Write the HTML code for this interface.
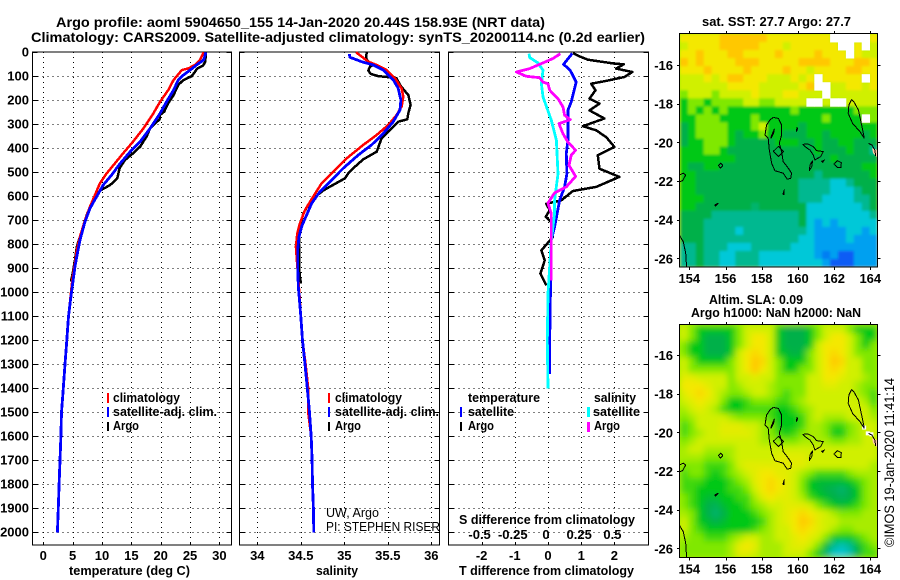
<!DOCTYPE html>
<html lang="en">
<head>
<meta charset="utf-8">
<title>Argo profile 5904650_155</title>
<style>
html,body{margin:0;padding:0;background:#fff;width:900px;height:580px;overflow:hidden}
svg{display:block}
text{font-family:"Liberation Sans",sans-serif;font-size:13px;font-weight:bold;fill:#000}
.reg{font-weight:normal}
</style>
</head>
<body>
<svg id="chart" xmlns="http://www.w3.org/2000/svg" width="900" height="580" viewBox="0 0 900 580">
<defs>
<clipPath id="clip-sst"><rect x="680" y="34" width="197.5" height="233"/></clipPath>
<clipPath id="clip-sla"><rect x="680" y="325" width="197.5" height="232.5"/></clipPath>
<filter id="smooth" x="-5%" y="-5%" width="110%" height="110%"><feGaussianBlur stdDeviation="3.2"/></filter>
<filter id="soften" x="-5%" y="-5%" width="110%" height="110%"><feGaussianBlur stdDeviation="1.4"/></filter>
</defs>
<text x="56" y="27" font-size="14" style="font-size:14px" textLength="489" lengthAdjust="spacingAndGlyphs">Argo profile: aoml 5904650_155 14-Jan-2020 20.44S 158.93E (NRT data)</text>
<text x="31" y="42" style="font-size:14px" textLength="614" lengthAdjust="spacingAndGlyphs">Climatology: CARS2009. Satellite-adjusted climatology: synTS_20200114.nc (0.2d earlier)</text>
<g id="layer-maps"></g>
<g id="layer-plots"></g>
<g id="layer-text">
<text x="69" y="575" textLength="121" lengthAdjust="spacingAndGlyphs">temperature (deg C)</text>
<text x="316" y="575" textLength="42" lengthAdjust="spacingAndGlyphs">salinity</text>
<text x="459" y="575" textLength="175" lengthAdjust="spacingAndGlyphs">T difference from climatology</text>
<text x="459" y="524" textLength="176" lengthAdjust="spacingAndGlyphs">S difference from climatology</text>

<rect x="107" y="393" width="2" height="10" fill="#f00"/>
<rect x="107" y="407" width="2" height="10" fill="#00f"/>
<rect x="107" y="422" width="2" height="9" fill="#000"/>
<text x="113" y="402" textLength="67" lengthAdjust="spacingAndGlyphs">climatology</text>
<text x="113" y="416" textLength="104" lengthAdjust="spacingAndGlyphs">satellite-adj. clim.</text>
<text x="113" y="430" textLength="26" lengthAdjust="spacingAndGlyphs">Argo</text>

<rect x="328" y="393" width="2" height="10" fill="#f00"/>
<rect x="328" y="407" width="2" height="10" fill="#00f"/>
<rect x="328" y="422" width="2" height="9" fill="#000"/>
<text x="335" y="402" textLength="67" lengthAdjust="spacingAndGlyphs">climatology</text>
<text x="335" y="416" textLength="104" lengthAdjust="spacingAndGlyphs">satellite-adj. clim.</text>
<text x="335" y="430" textLength="26" lengthAdjust="spacingAndGlyphs">Argo</text>
<text class="reg" x="326" y="517" textLength="53" lengthAdjust="spacingAndGlyphs">UW, Argo</text>
<text class="reg" x="326" y="531" textLength="114" lengthAdjust="spacingAndGlyphs">PI: STEPHEN RISER</text>

<text x="468" y="402" textLength="72" lengthAdjust="spacingAndGlyphs">temperature</text>
<text x="468" y="416" textLength="46" lengthAdjust="spacingAndGlyphs">satellite</text>
<text x="468" y="430" textLength="26" lengthAdjust="spacingAndGlyphs">Argo</text>
<rect x="460" y="407" width="2" height="10" fill="#00f"/>
<rect x="460" y="422" width="2" height="9" fill="#000"/>
<text x="594" y="402" textLength="42" lengthAdjust="spacingAndGlyphs">salinity</text>
<text x="593" y="416" textLength="47" lengthAdjust="spacingAndGlyphs">satellite</text>
<text x="594" y="430" textLength="26" lengthAdjust="spacingAndGlyphs">Argo</text>
<rect x="587" y="407" width="3" height="10" fill="#0ff"/>
<rect x="587" y="422" width="3" height="10" fill="#f0f"/>

<text x="702" y="26" textLength="149" lengthAdjust="spacingAndGlyphs">sat. SST: 27.7 Argo: 27.7</text>
<text x="709" y="304" textLength="94" lengthAdjust="spacingAndGlyphs">Altim. SLA: 0.09</text>
<text x="691" y="317" textLength="170" lengthAdjust="spacingAndGlyphs">Argo h1000: NaN h2000: NaN</text>
<text class="reg" transform="translate(894,547) rotate(-90)" style="font-size:14px" textLength="169" lengthAdjust="spacingAndGlyphs">©IMOS 19-Jan-2020 11:41:14</text>
</g>
</svg>
<script>
// ---- tick labels ----
const depthTicks = [0,100,200,300,400,500,600,700,800,900,1000,1100,1200,1300,1400,1500,1600,1700,1800,1900,2000];
const tempTicks = [0,5,10,15,20,25,30];
const salTicks = [34,34.5,35,35.5,36];
const salTickLabels = ['34','34.5','35','35.5','36'];
const tDiffTicks = [-2,-1,0,1,2];
const sDiffTicks = [-0.5,-0.25,0,0.25,0.5];
const sDiffTickLabels = ['-0.5','-0.25','0','0.25','0.5'];
const lonTicks = [154,156,158,160,162,164];
const latTicks = [-16,-18,-20,-22,-24,-26];

// ---- temperature panel ----
const tempArgoDepth = [0,39,56,67,99,118,136,178,212,247,261,279,317,351,393,421,449,483,525,553,576,615,671,726,768,810,865,921,955];
const tempArgo = [27.7,27.6,27.2,26.25,25.3,23.75,23,22.2,21.3,20.6,19.9,19.8,18.2,17.6,16.5,15.3,13.9,13,12.6,11.4,9.7,8.5,7.5,6.8,6.25,5.7,5.4,5,4.7];
const tempClimDepth = [0,32,53,67,74,115,157,206,254,317,372,421,463,504,546,594,643,699,768,824,879,935,1004,1100,1200,1300,1400,1500,1600,1700,1800,1900,2000];
const tempClim = [27.3,26.7,25.85,24.7,23.6,22.2,21.3,19.9,18.75,17.05,15.3,13.6,12.2,10.8,9.65,8.8,7.95,7.1,6.25,5.7,5.4,5,4.7,4.3,4,3.7,3.4,3.1,3,2.85,2.7,2.55,2.4];
const tempSatDepth = [0,32,53,74,94,115,157,206,254,317,372,414,463,511,553,601,650,706,782,851,893,963,1025,1100,1200,1300,1400,1500,1600,1700,1800,1900,2000];
const tempSat = [27.7,27.3,26.1,25,23.9,23,22.2,21,19.9,18.2,16.5,14.8,13.1,11.65,10.2,9.1,7.95,7.1,6.25,5.7,5.4,5,4.66,4.3,4,3.7,3.4,3.1,3,2.85,2.7,2.55,2.4];

// ---- salinity panel ----
const salArgoDepth = [0,25,46,53,60,76,90,99,104,108,136,157,178,219,254,279,289,310,331,358,414,446,483,504,525,560,576,608,636,671,699,740,796,893,935,963];
const salArgo = [35.257,35.249,35.287,35.333,35.295,35.276,35.303,35.39,35.525,35.6,35.64,35.686,35.736,35.762,35.736,35.724,35.62,35.563,35.506,35.429,35.372,35.218,35.103,35.046,35.008,34.835,34.759,34.644,34.586,34.529,34.51,34.49,34.479,34.479,34.49,34.502];
const salClimDepth = [0,18,39,53,74,108,150,185,226,261,303,344,386,442,497,546,601,657,713,754,810,851,1000,1100,1200,1300,1400,1500,1600,1700,1800,1900,2000];
const salClim = [35.134,35.2,35.276,35.372,35.487,35.582,35.659,35.678,35.659,35.602,35.506,35.372,35.218,35.027,34.874,34.739,34.644,34.548,34.49,34.46,34.444,34.452,34.483,34.5,34.52,34.555,34.585,34.585,34.62,34.63,34.635,34.645,34.65];
const salSatDepth = [7,21,39,53,74,115,150,199,240,289,338,386,428,483,539,581,629,685,726,768,824,893,976,1025,1100,1200,1300,1400,1500,1600,1700,1800,1900,2000];
const salSat = [35.057,35.065,35.199,35.333,35.448,35.563,35.62,35.651,35.64,35.563,35.448,35.314,35.161,34.989,34.835,34.72,34.625,34.559,34.51,34.479,34.464,34.464,34.471,34.483,34.5,34.52,34.548,34.575,34.6,34.62,34.63,34.635,34.645,34.65];

// ---- difference panel ----
const dtArgoDepth = [3,17,31,40,47,50,68,82,103,119,131,158,193,214,242,276,308,325,353,394,429,485,519,561,578,617,631,658,686,707,769,825,867,922,971];
const dtArgo = [0.75,0.95,1.2,1.65,2,2.28,2.05,2.54,2.3,1.75,1.3,1.43,1.25,1.55,1.25,1.7,1.05,1.45,1.75,2,1.5,1.55,2.15,1.45,0.75,0.4,-0.05,0.05,-0.07,0.1,0.15,-0.2,-0.1,-0.23,-0.05];
const dtSatDepth = [5,50,75,124,207,242,367,422,506,561,617,728,783,1033,1200,1340];
const dtSat = [0.73,0.47,0.67,0.85,0.7,0.6,0.6,0.55,0.57,0.5,0.35,0.2,0.1,0.07,0.05,0.05];
const dsArgoDepth = [6,26,44,68,82,100,106,124,131,158,193,228,262,281,297,339,374,408,429,471,517,561,586,628,672,769,950];
const dsArgo = [0.093,0.038,-0.038,-0.138,-0.238,-0.163,-0.063,-0.038,0,0.013,0.075,0.113,0.125,0.168,0.083,0.113,0.15,0.208,0.175,0.158,0.208,0.138,0.05,0,0.025,0.025,0.025];
const dsSatDepth = [6,22,44,75,131,186,283,367,506,617,672,783,1005,1200,1400];
const dsSat = [-0.143,-0.138,-0.075,-0.038,-0.05,-0.038,0.025,0.063,0.075,0.05,0.05,0.025,0,-0.005,0];

// ---- map colour levels (-1 = no data) ----
const levelColors = ['#0a5cf5','#00a0f0','#00c8d8','#00b890','#00b048','#00c818','#80e800','#d0f000','#f4e800','#ffc800'];
const sstLevels = [
[8,8,8,8,8,9,9,9,9,9,9,8,8,8,8,8,8,8,8,-1,-1,-1,-1,-1,8],
[7,8,8,8,8,9,9,9,9,9,8,8,8,7,8,8,8,8,8,8,-1,-1,8,-1,7],
[8,8,9,8,8,8,9,9,8,8,8,8,9,8,8,8,8,9,8,8,8,-1,8,7,7],
[9,8,9,8,8,8,8,9,9,9,8,8,8,8,8,9,9,9,9,8,8,8,9,9,8],
[8,8,8,9,8,8,8,8,9,8,8,8,8,9,8,8,7,8,8,8,8,9,9,8,8],
[7,7,7,8,7,8,9,9,8,8,8,7,7,7,8,7,8,-1,8,8,8,8,8,-1,8],
[7,7,7,7,7,7,8,8,8,8,7,7,7,7,7,8,9,-1,-1,7,7,8,8,7,8],
[6,7,7,7,6,7,7,7,7,8,7,7,7,8,8,7,7,7,-1,7,7,7,7,7,7],
[5,6,6,5,6,6,6,6,7,7,6,6,7,7,7,7,-1,-1,7,-1,-1,7,7,7,7],
[5,6,5,6,5,6,5,5,5,5,5,5,5,5,6,5,5,5,5,5,5,5,6,6,6],
[5,5,6,6,6,5,5,5,5,6,5,5,5,5,5,5,5,5,6,5,5,5,5,-1,6],
[4,5,6,6,6,6,5,5,5,6,7,5,5,5,5,4,5,5,5,5,5,5,5,5,5],
[4,5,6,6,6,6,5,4,5,5,6,5,5,4,4,4,5,5,4,5,5,5,5,4,5],
[4,5,5,6,6,6,5,4,4,4,4,4,5,5,5,4,4,5,4,4,5,5,4,4,4],
[5,5,5,6,6,5,4,4,4,4,4,4,4,4,4,4,4,5,4,4,4,5,4,4,3],
[5,5,5,5,5,5,5,4,4,4,4,4,4,4,4,4,4,4,4,5,4,4,4,4,4],
[5,4,4,5,5,4,4,4,4,4,4,4,4,4,4,4,4,4,4,4,4,4,4,5,5],
[5,5,4,4,4,4,4,4,4,4,4,4,4,4,4,4,4,3,4,4,4,4,4,4,5],
[5,5,4,4,4,4,4,4,4,4,4,4,4,4,4,3,3,3,3,2,2,3,4,4,4],
[5,5,4,4,4,4,4,4,4,4,4,4,4,4,4,3,3,3,3,2,2,2,3,4,4],
[5,5,5,4,4,4,4,4,4,4,4,4,4,4,4,3,3,3,2,2,2,2,3,3,4],
[5,5,4,4,4,4,4,4,4,3.5,4,4,4,4,4,4,2,2,2,2,2,2,2,3,4],
[4,4,4,4,3,3,3,3,3,3,3,3,3,3,3,4,2,2,2,2,2,2,2,2,3],
[4,4,4,3,3,3,3,3,3,3,3,3,3,3,3,4,2,1,2,1,2,2,2,2,2],
[4,4,4,3,3,3,3,2,3,3,3,3,3,3,3,3,2,1,1,1,1,2,2,1,2],
[4,4,4,3,3,3,3,3,3,3,3,3,3,3,3,2,2,1,1,1,1,2,1,1,1],
[3,3,4,3,3,3,2,2,2,3,3,3,3,3,2,2,2,1,1,1,1,1,1,1,1],
[3,3,4,3,3,2,2,3,3,3,2,2,2,2,2,2,2,1,0.5,1,0,0,1,1,1],
[3,3,4,3,3,2,2,3,3,3,2,2,2,2,2,2,2,2,1,0,0,0,1,1,1]
];
const slaLevels = [
[7,6,5,5,5,5,5,6,7,7,7,7,5,4,4,4,5,6,7,7,7,6,5,5,5],
[7,6,5,4,4,4,5,6,7,8,8,7,5,4,4,4,5,6,7,8,8,7,6,5,5],
[6,5,5,4,4,4,5,6,7,8,8,7,5,4,4,4,5,7,8,8,8,7,6,5,6],
[6,5,5,4,4,4,5,7,8,8.5,8,7,5,4.5,4,4.5,6,7,8,8.5,8,7,6,6,6],
[7,6,5,5,5,5,6,7,8,9,8.5,7,6,5,5,5,6,7,8,9,8.5,7,7,6,6],
[7,6,6,6,6,6,6,7,8,9,8,7,6,5,5,6,6,7,8,8.5,8,7,7,6,6],
[7.5,7.5,7,7,7,7,6,7,7,7.5,7,7,6,6,6,6,7,7,8,8,7.5,7,7,6.5,6],
[8,8,8,7.5,7,7,6,6.5,7,7,7,6.5,6,6,6,6,7,7,7.5,7.5,7,7,6.5,6,6],
[7.5,8,8.5,8,7,6.5,6,6,6.5,7,7,6.5,6,5.5,6,6,7,7,7,7,7,7,6.5,6,5.5],
[7,7.5,8,7.5,7,6,5,5,5.5,6,6,6,5.5,5.5,6,6.5,7,7,7,7,7,7,7,6.5,5.5],
[6.5,7,7.5,7,6.5,5.5,5,5,5.5,5.5,5.5,5.5,5,5,5.5,6,6.5,7,7,7,7,7,7,7,6],
[6,6.5,7,7,7,7,6.5,6,6,6,6,5.5,5,5,5,5.5,6.5,7,6.5,6.5,6.5,7,7,7,6.5],
[5.5,6,7,7,7,7.5,7.5,7.5,7,7,6.5,6,5,5,5,5.5,6.5,6.5,6,5.5,5.5,6,6.5,7,7],
[5.5,6,6.5,7,7,7.5,7.5,7.5,7.5,7,6.5,6,5.5,5,5.5,6,6.5,6.5,6,5,5,6,6.5,7,7],
[6,6.5,7,7,7,7,7,7,7,7,6.5,6.5,6,6,6,6.5,6.5,6.5,6.5,6,6,6.5,6.5,7,7],
[6.5,7,7,6.5,6.5,6.5,6.5,7,7,7,7,7,7,7,7,7,7,7,7,7,7,7,7,7,7],
[6.5,6.5,6.5,6,6,6,6.5,7,7,7,7,7,7.5,7.5,7.5,7.5,7,7,7,7,7,7,7,7,7],
[6,6,6,5.5,5.5,5.5,6,7,7.5,7.5,7.5,7.5,7.5,7.5,7.5,7.5,7,7,7,7,7,7,7,7,6.5],
[5.5,6,6,5.5,5,5.5,6,6.5,7,7.5,8,8,7.5,7.5,7,6.5,6,5.5,5.5,5.5,5.5,6,6.5,6.5,6.5],
[5.5,5.5,5.5,5,5,5,5.5,6,6.5,7.5,8,8.5,8,7.5,7,6,5,4.5,4.5,4.5,4.5,5,5.5,6,6.5],
[5.5,5.5,5,5,5,5,5.5,5.5,6,7,8,8.5,8,7.5,7,6,5,4.5,4,3.8,3.5,4,5,6,6.5],
[6,5.5,5,4.5,4.5,5,5,5.5,5.5,6.5,7.5,8,7.5,7.5,7,6.5,5.5,5,4.5,4,3.8,4,5,6,6.5],
[6,5.5,5,4,3.8,4.5,5,5,5.5,6,6.5,7,7,7.5,7.5,7.5,7,6,5.5,5,4.5,5,5.5,6,6.5],
[6.5,6,5,4,3.5,4,5,5,5,5.5,6,6.5,7,7.5,8,8.5,8,7.5,7,6.5,6,6,6,6.5,6.5],
[7,6,5,4.5,4,4.5,5,5,5,5,5.5,6.5,7,7.5,8,9,8.5,7.5,7,7,6.5,6.5,6.5,6.5,6.5],
[7,6,5.5,5,5,5,5,5,5,5.5,6,6.5,7,7,8,8.5,8,7.5,7,6.5,6,6,6.5,6.5,6.5],
[6.5,6,6,5.5,5.5,5.5,6,6.5,7,7,6.5,6.5,7,7,7.5,8,7.5,7,6,5,5,5,5.5,6,6.5],
[6,6,6,6,6,6,6.5,7.5,8,7.5,6.5,6.5,6.5,7,7.5,7.5,7,6,4.5,3,2.5,3,4.5,5.5,6],
[6,6,6,6,6,6,6.5,7.5,7.5,7,6.5,6.5,6.5,7,7,7,6,5,3.5,2.2,2,2.5,4,5.5,5.5]
];

// ---- coastlines (lon, lat) ----
const coastLons = [
[158.64,158.92,159.1,159.1,158.97,159.1,159.19,159.47,159.65,159.6,159.41,159.19,158.73,158.55,158.42,158.36,158.18,158.27,158.46,158.64],
[158.5,158.7,158.65,158.5,158.5],
[158.64,158.92,159.2,158.92,158.64],
[159.95,159.98,159.92,159.95],
[160.26,160.57,160.85,161.03,161.4,161.26,160.94,160.85,160.67,160.39,160.26],
[160.81,160.67,160.63,160.76,160.81],
[161.3,161.45,161.37,161.3],
[161.98,162.18,162.4,162.38,162.18,161.98],
[155.6,155.73,155.85,155.73,155.6],
[159.25,159.17,159.22,159.25],
[155.4,155.6,155.45,155.4],
[153.45,153.67,153.8,153.63,153.45],
[153.45,153.67,153.8,153.85],
[162.97,163.12,163.34,163.52,163.67,163.43,163.02,162.78,162.82,162.97],
[163.9,164.1,164.25,164.3]
];
const coastLats = [
[-18.71,-18.76,-19.1,-19.62,-20.05,-20.48,-21,-21.34,-21.6,-21.86,-21.91,-21.6,-21.47,-21.09,-20.4,-19.79,-19.62,-19.1,-18.84,-18.71],
[-19.75,-19.3,-19.55,-19.8,-19.75],
[-20.47,-20.21,-20.47,-20.73,-20.47],
[-19.2,-19.3,-19.45,-19.2],
[-20.1,-20.09,-20.22,-20.43,-20.48,-20.74,-20.91,-20.66,-20.4,-20.22,-20.1],
[-20.95,-21.17,-21.47,-21.26,-20.95],
[-20.98,-20.93,-21.03,-20.98],
[-21.12,-20.95,-21.05,-21.3,-21.3,-21.12],
[-21.2,-21.08,-21.2,-21.33,-21.2],
[-22.45,-22.68,-22.7,-22.45],
[-23.25,-23.15,-23.3,-23.25],
[-21.69,-21.6,-21.69,-21.98,-22.05],
[-24.8,-25.14,-25.74,-26.47],
[-17.78,-17.95,-18.33,-19.1,-19.79,-19.45,-19.02,-18.5,-18.07,-17.78],
[-20.05,-20.15,-20.4,-20.7]
];
const landLons = [164.1,164.4,164.4,164.15];
const landLats = [-20.3,-20.4,-20.8,-20.55];
const maskLons = [163.55,163.75,163.95];
const maskLats = [-19.65,-19.95,-20.0];

// ---- axes ----
const SVGNS = 'http://www.w3.org/2000/svg';
const plots = document.getElementById('layer-plots');
const maps = document.getElementById('layer-maps');
const depthY = d => 52.3 + 0.24 * d;
const tempX = t => 43.3 + 5.87 * t;
const salX = s => 257.3 + 87 * (s - 34);
const tDiffX = t => 548 + 33.2 * t;
const sDiffX = s => 548 + 132.8 * s;
const lonX = lon => 689.3 + 18.1 * (lon - 154);
const latY = (lat, origin) => origin + 19.33 * (-16 - lat);

function make(tag, name, attrs, parent) {
  const el = document.createElementNS(SVGNS, tag);
  
  
  for (const k in attrs) el.setAttribute(k, attrs[k]);
  parent.appendChild(el);
  return el;
}
function label(name, x, y, str, anchor, parent) {
  const el = make('text', name, {x: x, y: y, 'text-anchor': anchor}, parent);
  el.textContent = str;
  return el;
}
function seg(name, x1, y1, x2, y2, extra, parent) {
  return make('line', name, Object.assign({x1: x1, y1: y1, x2: x2, y2: y2, stroke: '#000', 'shape-rendering': 'crispEdges'}, extra || {}), parent);
}
function drawPanel(key, left, right, xFn, ticks, labels, showDepthLabels) {
  const g = make('g', key + '-panel', {}, plots);
  const top = 52, bottom = 545;
  ticks.forEach((t, i) => {
    const x = Math.round(xFn(t)) + 0.5;
    seg(key + '-x-grid', x, top, x, bottom, {'stroke-dasharray': '1 4'}, g);
    seg(key + '-x-tick', x, bottom - 3, x, bottom, {}, g);
    if (labels) label(key + '-x-tick-label', xFn(t), 560, labels[i], 'middle', g);
  });
  depthTicks.forEach(d => {
    const y = Math.round(depthY(d)) + 0.5;
    if (d > 0) seg(key + '-depth-grid', left, y, right, y, {'stroke-dasharray': '1 4'}, g);
    seg(key + '-depth-tick-left', left, y, left + 5, y, {}, g);
    seg(key + '-depth-tick-right', right - 5, y, right, y, {}, g);
    if (showDepthLabels) label('depth-tick-label', 29, depthY(d) + 4, String(d), 'end', g);
  });
  make('rect', key + '-frame', {x: left, y: top, width: right - left, height: bottom - top, fill: 'none', stroke: '#000', 'shape-rendering': 'crispEdges'}, g);
  return g;
}
function drawLine(name, values, depths, xFn, color, width, parent) {
  const pts = values.map((v, i) => xFn(v).toFixed(1) + ',' + depthY(depths[i]).toFixed(1)).join(' ');
  make('polyline', name, {points: pts, fill: 'none', stroke: color, 'stroke-width': width, 'shape-rendering': 'crispEdges', 'stroke-linejoin': 'round'}, parent);
}

const pT = drawPanel('temperature', 32.5, 231.5, tempX, tempTicks, tempTicks.map(String), true);
drawLine('temperature-argo-line', tempArgo, tempArgoDepth, tempX, '#000', 2.5, pT);
drawLine('temperature-climatology-line', tempClim, tempClimDepth, tempX, '#f00', 2.5, pT);
drawLine('temperature-satellite-line', tempSat, tempSatDepth, tempX, '#00f', 2.8, pT);

const pS = drawPanel('salinity', 239.5, 439.5, salX, salTicks, salTickLabels, false);
drawLine('salinity-argo-line', salArgo, salArgoDepth, salX, '#000', 2.5, pS);
drawLine('salinity-climatology-line', salClim, salClimDepth, salX, '#f00', 2.5, pS);
drawLine('salinity-satellite-line', salSat, salSatDepth, salX, '#00f', 2.8, pS);

const pD = drawPanel('difference', 448.5, 648.5, tDiffX, tDiffTicks, tDiffTicks.map(String), false);
sDiffTicks.forEach((s, i) => label('s-difference-tick-label', sDiffX(s) - 2, 539, sDiffTickLabels[i], 'middle', pD));
drawLine('t-difference-argo-line', dtArgo, dtArgoDepth, tDiffX, '#000', 2.5, pD);
drawLine('t-difference-satellite-line', dtSat, dtSatDepth, tDiffX, '#00f', 2.8, pD);
drawLine('s-difference-satellite-line', dsSat, dsSatDepth, sDiffX, '#0ff', 2.8, pD);
drawLine('s-difference-argo-line', dsArgo, dsArgoDepth, sDiffX, '#f0f', 2.8, pD);

// ---- maps ----
function levelColor(v) {
  const lo = Math.max(0, Math.min(levelColors.length - 1, Math.floor(v)));
  const hi = Math.min(levelColors.length - 1, lo + 1);
  const f = Math.max(0, Math.min(1, v - lo));
  const a = parseInt(levelColors[lo].slice(1), 16), b = parseInt(levelColors[hi].slice(1), 16);
  const mix = s => Math.round(((a >> s) & 255) * (1 - f) + ((b >> s) & 255) * f);
  return 'rgb(' + mix(16) + ',' + mix(8) + ',' + mix(0) + ')';
}
function drawCells(name, rows, x0, y0, w, h, parent) {
  const cw = w / rows[0].length, ch = h / rows.length;
  rows.forEach((row, r) => row.forEach((v, c) => {
    if (v < 0) return;
    make('rect', name, {x: (x0 + c * cw).toFixed(2), y: (y0 + r * ch).toFixed(2), width: (cw + 0.4).toFixed(2), height: (ch + 0.4).toFixed(2), fill: levelColor(v)}, parent);
  }));
}
function drawMissing(name, rows, x0, y0, w, h, parent) {
  const cw = w / rows[0].length, ch = h / rows.length;
  rows.forEach((row, r) => row.forEach((v, c) => {
    if (v >= 0) return;
    make('rect', name, {x: (x0 + c * cw).toFixed(2), y: (y0 + r * ch).toFixed(2), width: (cw + 0.4).toFixed(2), height: (ch + 0.4).toFixed(2), fill: '#fff'}, parent);
  }));
}
function drawMap(key, left, top, w, h, origin, clipId, rows, filterId) {
  const g = make('g', key + '-map', {}, maps);
  const clip = make('g', key + '-map-area', {'clip-path': 'url(#' + clipId + ')'}, g);
  const blur = make('g', key + '-heatmap', {filter: 'url(#' + filterId + ')'}, clip);
  make('rect', key + '-heatmap-backing', {x: left - 12, y: top - 12, width: w + 24, height: h + 24, fill: levelColor(6.5)}, blur);
  drawCells(key + '-cell', rows, left, top, w, h, blur);
  drawMissing(key + '-missing-cell', rows, left, top, w, h, clip);
  if (key === 'sla') {
    maskLons.forEach((lon, i) => make('rect', 'sla-missing-cell', {x: lonX(lon), y: latY(maskLats[i], origin), width: 4, height: 4, fill: '#fff'}, clip));
  }
  const landPts = landLons.map((lon, i) => lonX(lon).toFixed(1) + ',' + latY(landLats[i], origin).toFixed(1)).join(' ');
  make('polygon', key + '-land', {points: landPts, fill: '#ffc8a0'}, clip);
  coastLons.forEach((lons, i) => {
    const pts = lons.map((lon, j) => lonX(lon).toFixed(1) + ',' + latY(coastLats[i][j], origin).toFixed(1)).join(' ');
    make('polyline', key + '-coastline', {points: pts, fill: 'none', stroke: '#000', 'stroke-width': 1, 'shape-rendering': 'crispEdges'}, clip);
  });
  lonTicks.forEach(lon => {
    const x = Math.round(lonX(lon)) + 0.5;
    seg(key + '-lon-tick-top', x, top - 3, x, top, {}, g);
    seg(key + '-lon-tick-bottom', x, top + h, x, top + h + 3, {}, g);
    label(key + '-lon-tick-label', lonX(lon), top + h + 16, String(lon), 'middle', g);
  });
  latTicks.forEach(lat => {
    const y = Math.round(latY(lat, origin)) + 0.5;
    seg(key + '-lat-tick-left', left - 3, y, left, y, {}, g);
    seg(key + '-lat-tick-right', left + w, y, left + w + 3, y, {}, g);
    label(key + '-lat-tick-label', 673, latY(lat, origin) + 5, String(lat), 'end', g);
  });
  make('rect', key + '-map-frame', {x: left - 0.5, y: top - 0.5, width: w + 0.5, height: h + 0.5, fill: 'none', stroke: '#000', 'shape-rendering': 'crispEdges'}, g);
}
drawMap('sst', 680, 34, 197.5, 233, 65, 'clip-sst', sstLevels, 'soften');
drawMap('sla', 680, 325, 197.5, 232.5, 355, 'clip-sla', slaLevels, 'smooth');
</script>
</body>
</html>
